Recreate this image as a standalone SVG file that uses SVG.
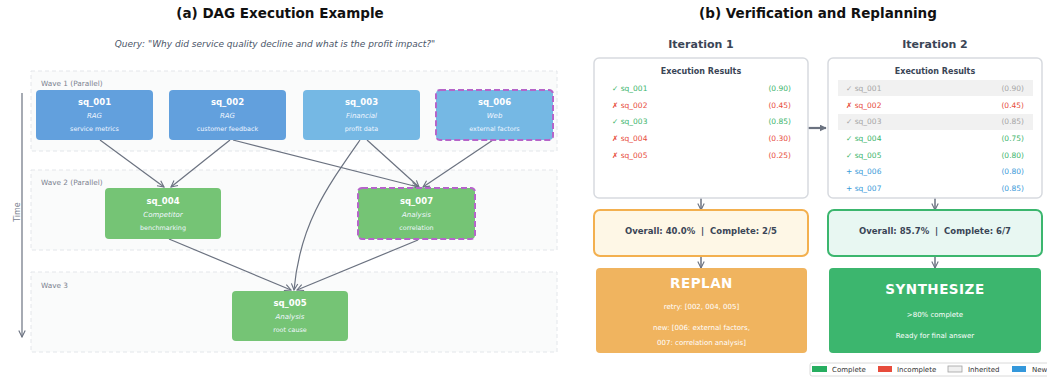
<svg xmlns="http://www.w3.org/2000/svg" width="1047" height="377" viewBox="0 0 1047 377">
<defs>
<style>
text{font-family:"DejaVu Sans","Liberation Sans",sans-serif}
.title{font-size:13.5px;font-weight:bold;fill:#111;text-anchor:middle}
.query{font-size:9px;font-style:italic;fill:#4a5568;text-anchor:middle}
.wave{fill:#fafbfb;stroke:#e3e6ea;stroke-width:1;stroke-dasharray:4,3}
.wlab{font-size:7.3px;fill:#7a8290}
.node{stroke:none}
.blue1{fill:#62a0dd}
.blue2{fill:#75b8e4}
.green{fill:#75c475}
.new{stroke:#b565c9;stroke-width:2;stroke-dasharray:6,3}
.nid{font-size:8.5px;font-weight:bold;fill:#fff;text-anchor:middle}
.ntype{font-size:7px;font-style:italic;fill:#f0f6ff;text-anchor:middle}
.ndesc{font-size:6.4px;fill:#f0f6ff;text-anchor:middle}
.edge{fill:none;stroke:#6b7280;stroke-width:1.2;marker-end:url(#open)}
.iter{font-size:11px;font-weight:bold;fill:#3a4556;text-anchor:middle}
.res{fill:#fff;stroke:#d7dadf;stroke-width:1.5}
.rh{font-size:8px;font-weight:bold;fill:#3a4556;text-anchor:middle}
.r{font-size:7.5px}
.rr{font-size:7.5px;text-anchor:end}
.ok{fill:#3cb56c}
.bad{fill:#e74c3c}
.inh{fill:#a6a6a6}
.nw{fill:#3a9ad9}
.ov{font-size:8.5px;font-weight:bold;fill:#3a4556;text-anchor:middle;white-space:pre}
.act{font-size:13.5px;font-weight:bold;fill:#fff;text-anchor:middle;letter-spacing:0.5px}
.actt{font-size:7px;fill:#fff;text-anchor:middle}
.flow{fill:none;stroke:#6b7280;stroke-width:1.5;marker-end:url(#open)}
.leg{font-size:7px;fill:#333}
</style>
<marker id="open" viewBox="0 0 10 10" refX="9" refY="5" markerWidth="8" markerHeight="8" markerUnits="userSpaceOnUse" orient="auto">
<path d="M1,1 L9,5 L1,9" fill="none" stroke="#6b7280" stroke-width="1.4"/>
</marker>
<marker id="fill" viewBox="0 0 10 10" refX="9" refY="5" markerWidth="7" markerHeight="7" markerUnits="userSpaceOnUse" orient="auto">
<path d="M0,0 L10,5 L0,10 z" fill="#6b7280"/>
</marker>
</defs>
<rect width="1047" height="377" fill="#fff"/>

<text class="title" x="280" y="18">(a) DAG Execution Example</text>
<text class="query" x="275" y="47">Query: "Why did service quality decline and what is the profit impact?"</text>

<g id="waves">
<rect class="wave" x="31" y="71" width="526" height="80"/>
<text class="wlab" x="41" y="86">Wave 1 (Parallel)</text>
<rect class="wave" x="31" y="170" width="526" height="80"/>
<text class="wlab" x="41" y="185">Wave 2 (Parallel)</text>
<rect class="wave" x="31" y="272" width="526" height="80"/>
<text class="wlab" x="41" y="288">Wave 3</text>
</g>

<g id="time-axis">
<line x1="22" y1="93" x2="22" y2="337" stroke="#6b7280" stroke-width="1.2" marker-end="url(#open)"/>
<text x="20" y="212" font-size="8" fill="#7a8290" text-anchor="middle" transform="rotate(-90 20 212)">Time</text>
</g>

<g id="connectors">
<line class="edge" x1="100" y1="140" x2="164" y2="187"/>
<line class="edge" x1="230" y1="140" x2="171" y2="187"/>
<line class="edge" x1="233" y1="140" x2="418" y2="187"/>
<line class="edge" x1="367" y1="140" x2="419" y2="187"/>
<line class="edge" x1="493" y1="140" x2="423" y2="187"/>
<path class="edge" d="M360,140 C325,190 300,225 294,290"/>
<line class="edge" x1="169" y1="239" x2="291" y2="290"/>
<line class="edge" x1="418" y1="240" x2="297" y2="290"/>
</g>

<g id="sq_001">
<rect class="node blue1" x="36" y="90" width="117" height="50" rx="4"/>
<text class="nid" x="94.5" y="105">sq_001</text>
<text class="ntype" x="94.5" y="118">RAG</text>
<text class="ndesc" x="94.5" y="131">service metrics</text>
</g>
<g id="sq_002">
<rect class="node blue1" x="169" y="90" width="117" height="50" rx="4"/>
<text class="nid" x="227.5" y="105">sq_002</text>
<text class="ntype" x="227.5" y="118">RAG</text>
<text class="ndesc" x="227.5" y="131">customer feedback</text>
</g>
<g id="sq_003">
<rect class="node blue2" x="303" y="90" width="117" height="50" rx="4"/>
<text class="nid" x="361.5" y="105">sq_003</text>
<text class="ntype" x="361.5" y="118">Financial</text>
<text class="ndesc" x="361.5" y="131">profit data</text>
</g>
<g id="sq_006">
<rect class="node blue2 new" x="436" y="90" width="117" height="50" rx="4"/>
<text class="nid" x="494.5" y="105">sq_006</text>
<text class="ntype" x="494.5" y="118">Web</text>
<text class="ndesc" x="494.5" y="131">external factors</text>
</g>
<g id="sq_004">
<rect class="node green" x="105" y="188" width="116" height="51" rx="4"/>
<text class="nid" x="163" y="204">sq_004</text>
<text class="ntype" x="163" y="217">Competitor</text>
<text class="ndesc" x="163" y="230">benchmarking</text>
</g>
<g id="sq_007">
<rect class="node green new" x="358" y="188" width="117" height="51" rx="4"/>
<text class="nid" x="416.5" y="204">sq_007</text>
<text class="ntype" x="416.5" y="217">Analysis</text>
<text class="ndesc" x="416.5" y="230">correlation</text>
</g>
<g id="sq_005">
<rect class="node green" x="232" y="291" width="116" height="50" rx="4"/>
<text class="nid" x="290" y="306">sq_005</text>
<text class="ntype" x="290" y="319">Analysis</text>
<text class="ndesc" x="290" y="332">root cause</text>
</g>

<text class="title" x="818" y="18">(b) Verification and Replanning</text>
<text class="iter" x="701" y="48">Iteration 1</text>
<text class="iter" x="935" y="48">Iteration 2</text>

<g id="flow-connectors">
<line class="flow" x1="701" y1="198" x2="701" y2="210"/>
<line class="flow" x1="701" y1="256" x2="701" y2="268"/>
<line class="flow" x1="935" y1="198" x2="935" y2="210"/>
<line class="flow" x1="935" y1="256" x2="935" y2="268"/>
<line x1="808" y1="128" x2="826" y2="128" stroke="#6b7280" stroke-width="2.2" marker-end="url(#fill)"/>
</g>

<g id="results-1">
<rect class="res" x="594" y="58" width="214" height="140" rx="5"/>
<text class="rh" x="701" y="74">Execution Results</text>
<text class="r ok" x="612" y="91">✓ sq_001</text><text class="rr ok" x="791" y="91">(0.90)</text>
<text class="r bad" x="612" y="108">✗ sq_002</text><text class="rr bad" x="791" y="108">(0.45)</text>
<text class="r ok" x="612" y="124">✓ sq_003</text><text class="rr ok" x="791" y="124">(0.85)</text>
<text class="r bad" x="612" y="141">✗ sq_004</text><text class="rr bad" x="791" y="141">(0.30)</text>
<text class="r bad" x="612" y="158">✗ sq_005</text><text class="rr bad" x="791" y="158">(0.25)</text>
</g>

<g id="results-2">
<rect class="res" x="828" y="58" width="214" height="140" rx="5"/>
<text class="rh" x="935" y="74">Execution Results</text>
<rect x="838" y="80" width="195" height="16" fill="#f1f1f1"/>
<rect x="838" y="114" width="195" height="16" fill="#f1f1f1"/>
<text class="r inh" x="846" y="91">✓ sq_001</text><text class="rr inh" x="1024" y="91">(0.90)</text>
<text class="r bad" x="846" y="108">✗ sq_002</text><text class="rr bad" x="1024" y="108">(0.45)</text>
<text class="r inh" x="846" y="124">✓ sq_003</text><text class="rr inh" x="1024" y="124">(0.85)</text>
<text class="r ok" x="846" y="141">✓ sq_004</text><text class="rr ok" x="1024" y="141">(0.75)</text>
<text class="r ok" x="846" y="158">✓ sq_005</text><text class="rr ok" x="1024" y="158">(0.80)</text>
<text class="r nw" x="846" y="174">+ sq_006</text><text class="rr nw" x="1024" y="174">(0.80)</text>
<text class="r nw" x="846" y="191">+ sq_007</text><text class="rr nw" x="1024" y="191">(0.85)</text>
</g>

<g id="overall-1">
<rect x="594" y="210" width="214" height="46" rx="6" fill="#fef7e6" stroke="#f3b04f" stroke-width="2"/>
<text class="ov" x="701" y="234" xml:space="preserve">Overall: 40.0%  |  Complete: 2/5</text>
</g>
<g id="overall-2">
<rect x="828" y="210" width="214" height="46" rx="6" fill="#e8f7f2" stroke="#3bb66e" stroke-width="2"/>
<text class="ov" x="935" y="234" xml:space="preserve">Overall: 85.7%  |  Complete: 6/7</text>
</g>

<g id="replan">
<rect x="596" y="268" width="211" height="85" rx="4" fill="#f0b45f"/>
<text class="act" x="701.5" y="288">REPLAN</text>
<text class="actt" x="701.5" y="309">retry: [002, 004, 005]</text>
<text class="actt" x="701.5" y="330">new: [006: external factors,</text>
<text class="actt" x="701.5" y="345">007: correlation analysis]</text>
</g>
<g id="synthesize">
<rect x="829" y="268" width="212" height="85" rx="4" fill="#3cb66e"/>
<text class="act" x="935" y="294">SYNTHESIZE</text>
<text class="actt" x="935" y="317">&gt;80% complete</text>
<text class="actt" x="935" y="338">Ready for final answer</text>
</g>

<g id="legend">
<rect x="810" y="363" width="240" height="13" rx="2" fill="#fff" stroke="#d0d0d0" stroke-width="0.8"/>
<rect x="812" y="366" width="15" height="6" fill="#27ae60"/>
<text class="leg" x="832" y="372">Complete</text>
<rect x="878" y="366" width="14" height="6" fill="#e74c3c"/>
<text class="leg" x="897" y="372">Incomplete</text>
<rect x="948" y="366" width="14" height="6" fill="#f0f0f0" stroke="#a0a0a0" stroke-width="0.8"/>
<text class="leg" x="968" y="372">Inherited</text>
<rect x="1012" y="366" width="14" height="6" fill="#3498db"/>
<text class="leg" x="1032" y="372">New</text>
</g>
</svg>
